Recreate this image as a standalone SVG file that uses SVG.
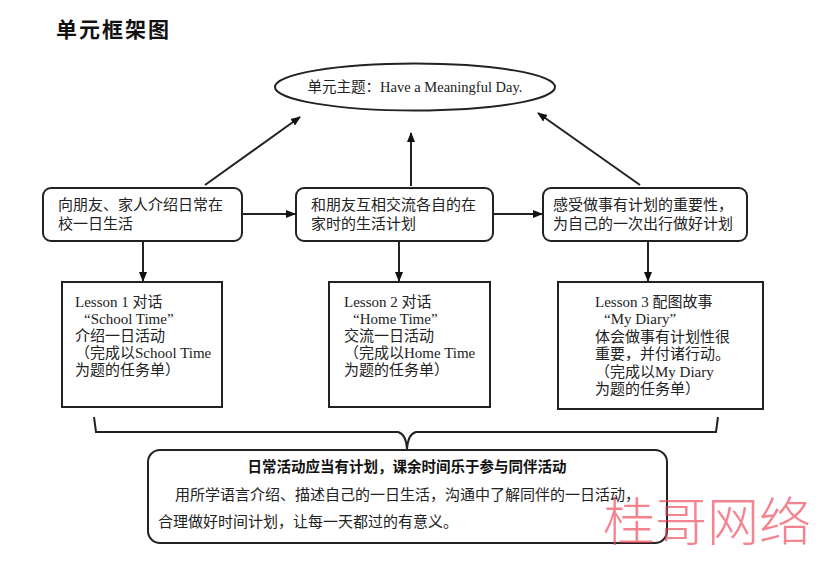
<svg xmlns="http://www.w3.org/2000/svg" width="831" height="561" viewBox="0 0 831 561">
<style>
  .box { fill: #fff; stroke: #222; stroke-width: 2; }
  .line { fill: none; stroke: #222; stroke-width: 2; }
  .cn { font-family: "Noto Sans CJK SC", "Noto Sans", sans-serif; font-size: 15px; fill: #222; }
  .ls { font-family: "Liberation Serif", "Noto Sans CJK SC", serif; font-size: 15px; fill: #222; }
  .title { font-family: "Noto Sans CJK SC", sans-serif; font-size: 21px; font-weight: bold; fill: #111; letter-spacing: 2px; }
  .bold { font-family: "Noto Sans CJK SC", sans-serif; font-size: 14.5px; font-weight: bold; fill: #111; }
  .wm { font-family: "Noto Sans CJK SC", sans-serif; font-size: 52px; font-weight: 300; fill: #ee4455; fill-opacity: 0.65; }
</style>
<defs>
  <marker id="arr" viewBox="0 0 10 10" refX="9" refY="5" markerWidth="10" markerHeight="10" markerUnits="userSpaceOnUse" orient="auto">
    <path d="M0,1 L10,5 L0,9 Z" fill="#111"/>
  </marker>
</defs>
<rect width="831" height="561" fill="#fff"/>
<text class="title" x="56" y="37">单元框架图</text>

<g id="theme">
  <ellipse class="box" cx="415" cy="87" rx="140" ry="23.5"/>
  <text class="ls" x="415" y="92" text-anchor="middle" style="font-size:14.5px">单元主题：Have a Meaningful Day.</text>
</g>

<g id="goal1">
  <rect class="box" x="43" y="188" width="199" height="53" rx="8"/>
  <text class="cn" x="58" y="210">向朋友、家人介绍日常在</text>
  <text class="cn" x="58" y="229">校一日生活</text>
</g>
<g id="goal2">
  <rect class="box" x="296" y="188" width="197" height="53" rx="8"/>
  <text class="cn" x="311" y="210">和朋友互相交流各自的在</text>
  <text class="cn" x="311" y="229">家时的生活计划</text>
</g>
<g id="goal3">
  <rect class="box" x="543" y="188" width="204" height="53" rx="8"/>
  <text class="cn" x="553" y="210">感受做事有计划的重要性，</text>
  <text class="cn" x="553" y="229">为自己的一次出行做好计划</text>
</g>

<g id="lesson1">
  <rect class="box" x="62" y="282" width="160" height="125"/>
  <text class="ls" x="75" y="307">Lesson 1 对话</text>
  <text class="ls" x="84" y="324">“School Time”</text>
  <text class="ls" x="75" y="341">介绍一日活动</text>
  <text class="ls" x="75" y="358">（完成以School Time</text>
  <text class="ls" x="75" y="375">为题的任务单）</text>
</g>
<g id="lesson2">
  <rect class="box" x="329" y="282" width="161" height="125"/>
  <text class="ls" x="344" y="307">Lesson 2 对话</text>
  <text class="ls" x="353" y="324">“Home Time”</text>
  <text class="ls" x="344" y="341">交流一日活动</text>
  <text class="ls" x="344" y="358">（完成以Home Time</text>
  <text class="ls" x="344" y="375">为题的任务单）</text>
</g>
<g id="lesson3">
  <rect class="box" x="558" y="282" width="205" height="127"/>
  <text class="ls" x="595" y="307">Lesson 3 配图故事</text>
  <text class="ls" x="604" y="324">“My Diary”</text>
  <text class="ls" x="595" y="342">体会做事有计划性很</text>
  <text class="ls" x="595" y="359">重要，并付诸行动。</text>
  <text class="ls" x="595" y="377">（完成以My Diary</text>
  <text class="ls" x="595" y="394">为题的任务单）</text>
</g>

<g id="summary">
  <rect class="box" x="148" y="450" width="519" height="93" rx="12"/>
  <text class="bold" x="407" y="472" text-anchor="middle">日常活动应当有计划，课余时间乐于参与同伴活动</text>
  <text class="ls" x="175" y="500">用所学语言介绍、描述自己的一日生活，沟通中了解同伴的一日活动，</text>
  <text class="ls" x="158" y="527">合理做好时间计划，让每一天都过的有意义。</text>
</g>

<g id="connectors">
  <line class="line" x1="205" y1="185" x2="300" y2="117" marker-end="url(#arr)"/>
  <line class="line" x1="411" y1="186" x2="411" y2="133" marker-end="url(#arr)"/>
  <line class="line" x1="640" y1="185" x2="538" y2="113" marker-end="url(#arr)"/>
  <line class="line" x1="242" y1="214" x2="295" y2="214" marker-end="url(#arr)"/>
  <line class="line" x1="493" y1="214" x2="542" y2="214" marker-end="url(#arr)"/>
  <line class="line" x1="143" y1="241" x2="143" y2="281" marker-end="url(#arr)"/>
  <line class="line" x1="399" y1="241" x2="399" y2="281" marker-end="url(#arr)"/>
  <line class="line" x1="648" y1="241" x2="648" y2="281" marker-end="url(#arr)"/>
  <path class="line" d="M94,417 L96,432 L398,432 Q406,434 407,449 Q408,434 416,432 L716,432 L718,417"/>
</g>

<text class="wm" x="603" y="541">桂哥网络</text>
</svg>
